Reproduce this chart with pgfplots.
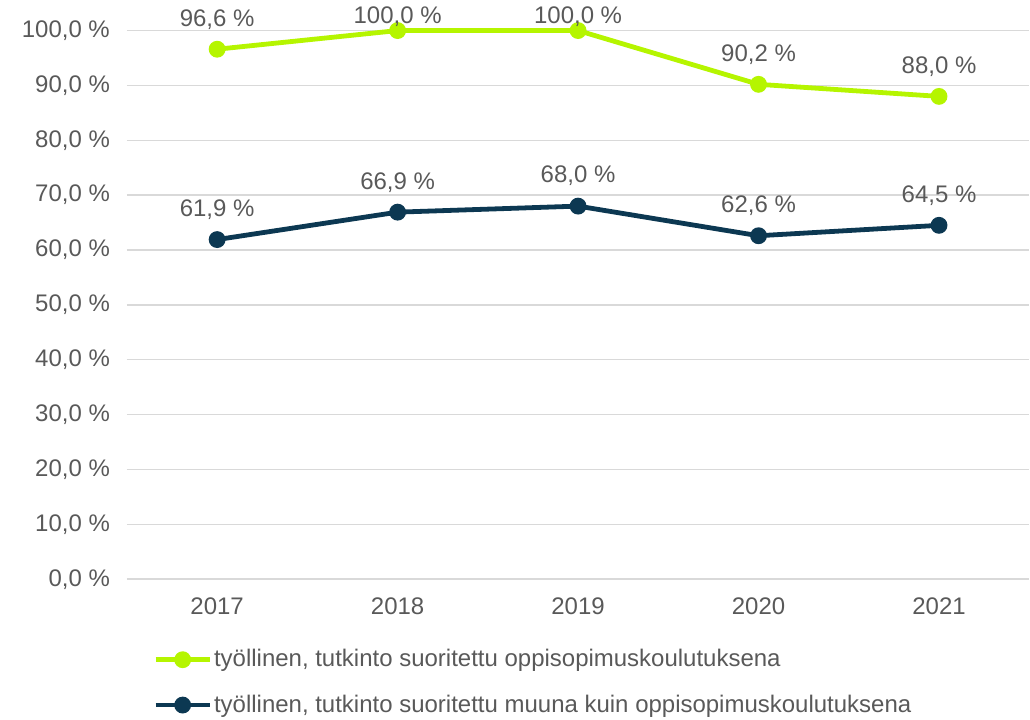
\documentclass[border=0pt]{standalone}
\usepackage{pgfplots}
\pgfplotsset{compat=1.18}
\usepackage{fontspec}
\setmainfont{Liberation Sans}

\definecolor{lime}{RGB}{181,245,0}
\definecolor{navy}{RGB}{12,56,82}
\definecolor{txt}{RGB}{89,89,89}
\definecolor{gridc}{RGB}{217,217,217}

\begin{document}
\begin{tikzpicture}
\begin{axis}[
  scale only axis,
  width=451.5pt, height=274.5pt,
  ymin=0, ymax=100,
  xmin=-0.5, xmax=4.5,
  ytick={0,10,...,100},
  xtick={0,1,2,3,4},
  xticklabels={2017,2018,2019,2020,2021},
  major tick length=0pt,
  axis line style={draw=none},
  ymajorgrids,
  grid style={gridc, line width=0.75pt},
  font=\fontsize{12}{14}\selectfont,
  tick label style={txt},
  /pgf/number format/assume math mode=true,
  yticklabel={\pgfmathprintnumber[fixed,fixed zerofill,precision=1,use comma]{\tick}~\%},
  yticklabel style={xshift=-5pt},
  xticklabel style={yshift=-6pt},
  clip=false,
  nodes near coords={\pgfmathprintnumber[fixed,fixed zerofill,precision=1,use comma]{\pgfplotspointmeta}~\%},
  every node near coord/.append style={txt, anchor=center, yshift=15pt, font=\fontsize{12}{14}\selectfont},
  legend style={at={(axis description cs:0.0288,0)}, anchor=north west, yshift=-33pt,
    draw=none, fill=none, inner sep=0pt, row sep=8.5pt, text=txt,
    font=\fontsize{12}{14}\selectfont,
    nodes={inner xsep=1pt}},
  legend cell align=left,
  legend image code/.code={\draw[mark repeat=2,mark phase=2] plot coordinates {(0pt,0pt)(13.5pt,0pt)(27pt,0pt)};},
]
\addplot[lime, line width=2.4pt, mark=*, mark size=3pt,
  coordinate style/.condition={\coordindex==1 || \coordindex==2}{yshift=-8pt}]
  coordinates {(0,96.6) (1,100.0) (2,100.0) (3,90.2) (4,88.0)};
\addlegendentry{työllinen, tutkinto suoritettu oppisopimuskoulutuksena}
\addplot[navy, line width=2.4pt, mark=*, mark size=3pt]
  coordinates {(0,61.9) (1,66.9) (2,68.0) (3,62.6) (4,64.5)};
\addlegendentry{työllinen, tutkinto suoritettu muuna kuin oppisopimuskoulutuksena}
\end{axis}
\path (current axis.south west) ++(-63.5pt,-68pt) coordinate (bl);
\path (current axis.north east) ++(0,14.5pt) coordinate (tr);
\path (bl) (tr);
\end{tikzpicture}
\end{document}
